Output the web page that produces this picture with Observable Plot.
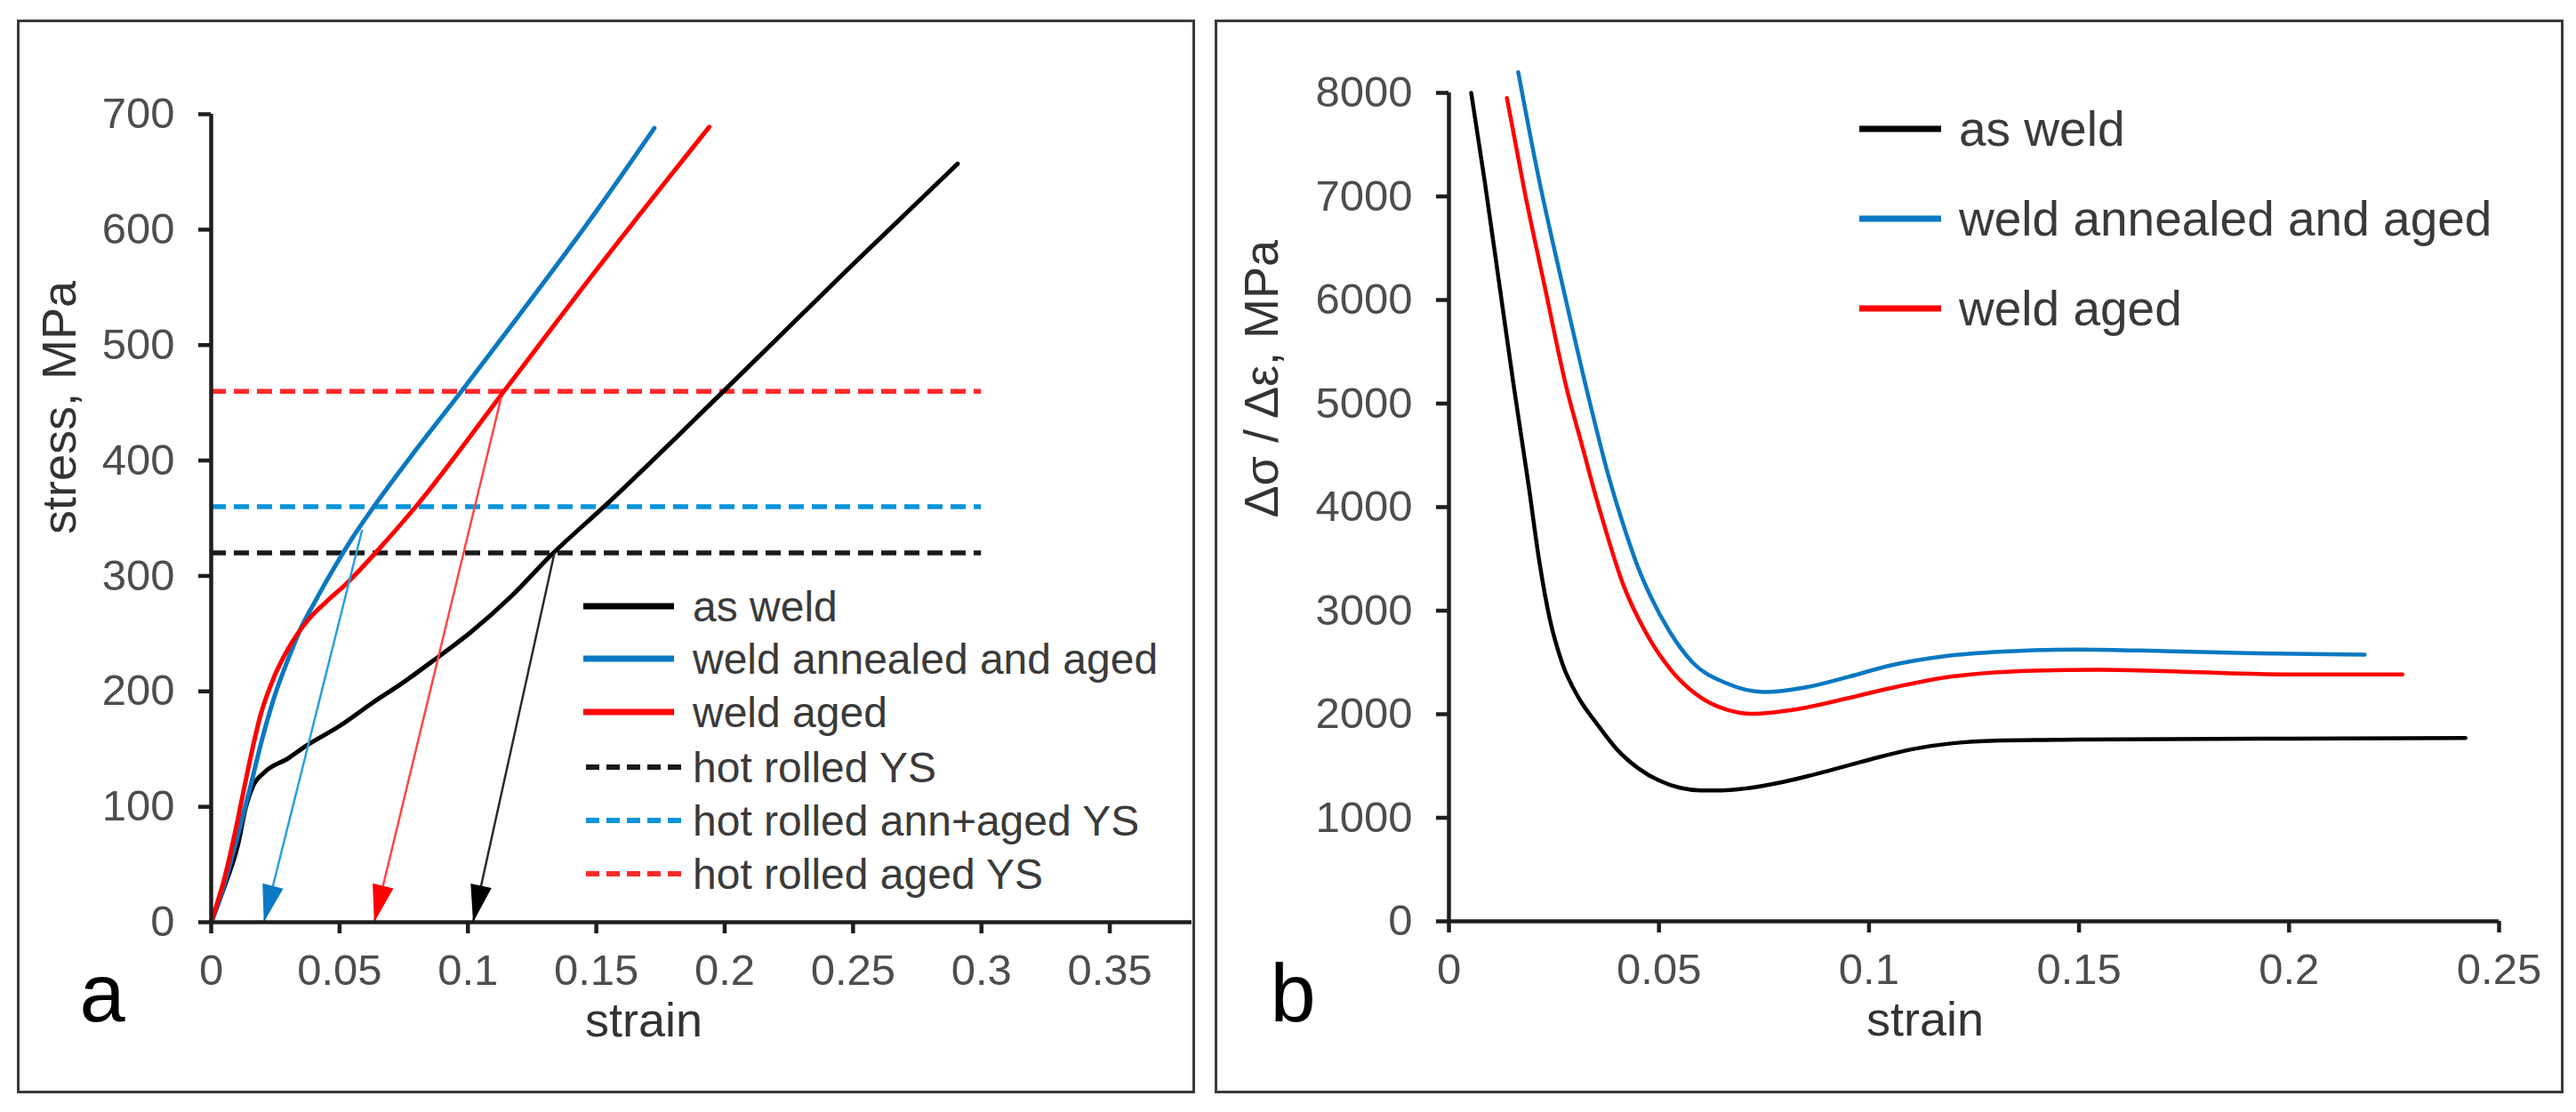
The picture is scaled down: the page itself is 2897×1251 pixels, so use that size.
<!DOCTYPE html>
<html>
<head>
<meta charset="utf-8">
<script src="https://cdn.jsdelivr.net/npm/d3@7"></script>
<script src="https://cdn.jsdelivr.net/npm/@observablehq/plot@0.6"></script>
<style>
  body { margin: 0; background: #fff; }
  #root { position: relative; width: 2897px; height: 1251px; overflow: hidden; font-family: "Liberation Sans", Arial, sans-serif; background: #fff; }
  .frame { position: absolute; box-sizing: border-box; border: 3px solid #3a3a3a; }
  .plot { position: absolute; top: 0; }
  .lrow { position: absolute; display: flex; align-items: center; white-space: nowrap; color: #3a3a3a; }
  .lrow svg { flex: none; }
</style>
</head>
<body>
<div id="root"></div>
<script>
// ---------------- DATA ----------------
// Panel a: stress-strain curves
const asWeldStrain  = [0, 0.005, 0.0104, 0.0135, 0.0163, 0.0208, 0.03, 0.0364, 0.05, 0.0628, 0.075, 0.0873, 0.101, 0.1167, 0.1324, 0.154, 0.2, 0.25, 0.2907];
const asWeldStress  = [0, 30, 67, 100, 118, 130, 142, 152, 170, 190, 208, 228, 251, 282, 318, 362, 461, 570, 657];
const annAgedStrain = [0, 0.005, 0.01, 0.015, 0.02, 0.025, 0.03, 0.035, 0.04, 0.045, 0.05, 0.055, 0.0627, 0.08, 0.0982, 0.12, 0.15, 0.1726];
const annAgedStress = [0, 32, 72, 115, 160, 198, 228, 255, 276, 296, 315, 333, 358, 410, 462, 526, 616, 688];
const agedStrain    = [0, 0.0055, 0.01, 0.013, 0.0193, 0.025, 0.03, 0.0378, 0.045, 0.053, 0.064, 0.0797, 0.1137, 0.15, 0.194];
const agedStress    = [0, 41, 85, 118, 180, 215, 237, 262, 278, 294, 320, 360, 459, 565, 689];

// Panel a: hot rolled yield strengths (dashed, strain 0 .. 0.3)
const ysNames  = ["hot rolled YS", "hot rolled ann+aged YS", "hot rolled aged YS"];
const ysValues = [320, 360, 460];
const ysEndStrain = 0.3;

// Panel a: unloading arrows (start on curve, tip on strain axis)
const arrowStartStrain = [0.0588, 0.113, 0.1337];
const arrowStartStress = [340, 455, 320];
const arrowEndStrain   = [0.0205, 0.0635, 0.102];
const arrowEndStress   = [0, 0, 0];

// Panel b: Δσ/Δε vs strain
const bAsWeldStrain  = [0.0053, 0.0085, 0.012, 0.0155, 0.019, 0.0215, 0.024, 0.027, 0.031, 0.035, 0.04, 0.045, 0.05, 0.055, 0.06, 0.065, 0.07, 0.08, 0.09, 0.1, 0.11, 0.12, 0.13, 0.15, 0.2, 0.242];
const bAsWeldValue   = [8000, 7150, 6150, 5150, 4200, 3480, 2920, 2490, 2150, 1920, 1660, 1480, 1360, 1290, 1265, 1265, 1280, 1350, 1450, 1560, 1660, 1720, 1745, 1755, 1765, 1770];
const bAnnAgedStrain = [0.0165, 0.021, 0.027, 0.033, 0.038, 0.0415, 0.045, 0.048, 0.0525, 0.058, 0.066, 0.075, 0.085, 0.095, 0.105, 0.118, 0.132, 0.15, 0.17, 0.19, 0.218];
const bAnnAgedValue  = [8200, 7250, 6150, 5100, 4300, 3830, 3420, 3140, 2800, 2500, 2300, 2215, 2260, 2360, 2470, 2560, 2605, 2625, 2610, 2590, 2575];
const bAgedStrain    = [0.0138, 0.018, 0.0227, 0.028, 0.032, 0.0345, 0.037, 0.0415, 0.047, 0.053, 0.06, 0.0665, 0.072, 0.083, 0.0945, 0.106, 0.119, 0.135, 0.155, 0.175, 0.2, 0.227];
const bAgedValue     = [7950, 7050, 6150, 5150, 4550, 4170, 3820, 3250, 2780, 2420, 2160, 2040, 2005, 2050, 2150, 2260, 2360, 2415, 2430, 2410, 2385, 2385];

// Ticks
const strainTicksA = [0, 0.05, 0.1, 0.15, 0.2, 0.25, 0.3, 0.35];
const stressTicksA = [0, 100, 200, 300, 400, 500, 600, 700];
const strainTicksB = [0, 0.05, 0.1, 0.15, 0.2, 0.25];
const valueTicksB  = [0, 1000, 2000, 3000, 4000, 5000, 6000, 7000, 8000];

// Series names
const seriesNames = ["as weld", "weld annealed and aged", "weld aged"];

// ---------------- STYLE ----------------
const C_BLACK = "#000000", C_BLUE = "#0a78c2", C_RED = "#ff0000";
const seriesColors = [C_BLACK, C_BLUE, C_RED];
const ysColors = ["#1a1a1a", "#0a94da", "#ff2a2a"];
const arrowLineColors = ["#2a9ee0", "#ff4545", "#2a2a2a"];
const arrowHeadColors = ["#0a78c2", "#ff0000", "#000000"];
const FONT = '"Liberation Sans", Arial, sans-serif';
const TICK_FILL = "#4d4d4d", AXIS_STROKE = "#1e1e1e", TITLE_FILL = "#333333";

function zip(xs, ys) { return xs.map((x, i) => ({x, y: ys[i]})); }

const curvesA = [zip(asWeldStrain, asWeldStress), zip(annAgedStrain, annAgedStress), zip(agedStrain, agedStress)];
const curvesB = [zip(bAsWeldStrain, bAsWeldValue), zip(bAnnAgedStrain, bAnnAgedValue), zip(bAgedStrain, bAgedValue)];
const arrows = arrowStartStrain.map((s, i) => ({x1: s, y1: arrowStartStress[i], x2: arrowEndStrain[i], y2: arrowEndStress[i]}));

const root = document.getElementById("root");

// frames
function frame(l, t, r, b) {
  const d = document.createElement("div");
  d.className = "frame";
  Object.assign(d.style, {left: l + "px", top: t + "px", width: (r - l) + "px", height: (b - t) + "px"});
  root.appendChild(d);
}
frame(19, 22, 1344, 1230);
frame(1366, 22, 2883, 1230);

// ---------------- PANEL A ----------------
function buildA(rots) {
  const marks = [];
  ysValues.forEach((v, i) => marks.push(Plot.ruleY([v], {x1: 0, x2: ysEndStrain, stroke: ysColors[i], strokeWidth: 5.5, strokeDasharray: "17,9"})));
  curvesA.forEach((c, i) => marks.push(Plot.line(c, {x: "x", y: "y", stroke: seriesColors[i], strokeWidth: 5, curve: "monotone-x"})));
  arrows.forEach((a, i) => marks.push(Plot.link([a], {x1: "x1", y1: "y1", x2: "x2", y2: "y2", stroke: arrowLineColors[i], strokeWidth: 2.5})));
  if (rots) {
    arrows.forEach((a, i) => marks.push(Plot.vector([a], {x: "x2", y: "y2", rotate: rots[i], length: 42, r: 12, shape: "spike", anchor: "end", fill: arrowHeadColors[i], stroke: "none"})));
  }
  marks.push(
    Plot.ruleX([0], {y1: 0, y2: 700, stroke: AXIS_STROKE, strokeWidth: 4.5}),
    Plot.ruleY([0], {x1: 0, x2: 0.382, stroke: AXIS_STROKE, strokeWidth: 4.5}),
    Plot.axisY({ticks: stressTicksA, tickFormat: d => String(d), tickSize: 14, tickPadding: 27, strokeWidth: 4.5, stroke: AXIS_STROKE, fill: TICK_FILL, fontSize: 49, label: null}),
    Plot.axisX({ticks: strainTicksA, tickFormat: d => String(d), tickSize: 13, tickPadding: 23, strokeWidth: 4.5, stroke: AXIS_STROKE, fill: TICK_FILL, fontSize: 49, label: null}),
    Plot.text(["strain"], {text: d => d, frameAnchor: "bottom", dx: -65, dy: 128, fontSize: 54, fill: TITLE_FILL}),
    Plot.text(["stress, MPa"], {text: d => d, frameAnchor: "left", rotate: -90, dx: -170, dy: 18, fontSize: 54, fill: TITLE_FILL}),
    Plot.text(["a"], {text: d => d, frameAnchor: "bottom-left", dx: -148, dy: 111, fontSize: 92, fill: "#000"})
  );
  return Plot.plot({
    width: 1350, height: 1240,
    marginLeft: 237, marginRight: 10, marginTop: 128, marginBottom: 203,
    x: {domain: [0, 0.382]},
    y: {domain: [0, 700]},
    style: {fontFamily: FONT, background: "none", overflow: "visible"},
    marks
  });
}
const pre = buildA(null);
const sx = pre.scale("x"), sy = pre.scale("y");
const rots = arrows.map(a => {
  const dx = sx.apply(a.x2) - sx.apply(a.x1);
  const dy = sy.apply(a.y2) - sy.apply(a.y1);
  return Math.atan2(dx, -dy) * 180 / Math.PI;
});
const plotA = buildA(rots);
plotA.classList.add("plot");
plotA.style.left = "0px";
root.appendChild(plotA);

// ---------------- PANEL B ----------------
const plotB = Plot.plot({
  width: 1510, height: 1240,
  marginLeft: 259, marginRight: 70, marginTop: 104, marginBottom: 204,
  x: {domain: [0, 0.25]},
  y: {domain: [0, 8000]},
  style: {fontFamily: FONT, background: "none", overflow: "visible"},
  marks: [
    ...curvesB.map((c, i) => Plot.line(c, {x: "x", y: "y", stroke: seriesColors[i], strokeWidth: 4.5, curve: "monotone-x"})),
    Plot.ruleX([0], {y1: 0, y2: 8000, stroke: AXIS_STROKE, strokeWidth: 4.5}),
    Plot.ruleY([0], {x1: 0, x2: 0.25, stroke: AXIS_STROKE, strokeWidth: 4.5}),
    Plot.axisY({ticks: valueTicksB, tickFormat: d => String(d), tickSize: 14, tickPadding: 27, strokeWidth: 4.5, stroke: AXIS_STROKE, fill: TICK_FILL, fontSize: 49, label: null}),
    Plot.axisX({ticks: strainTicksB, tickFormat: d => String(d), tickSize: 13, tickPadding: 23, strokeWidth: 4.5, stroke: AXIS_STROKE, fill: TICK_FILL, fontSize: 49, label: null}),
    Plot.text(["strain"], {text: d => d, frameAnchor: "bottom", dx: -55, dy: 128, fontSize: 54, fill: TITLE_FILL}),
    Plot.text(["Δσ / Δε, MPa"], {text: d => d, frameAnchor: "left", rotate: -90, dx: -210, dy: 12, fontSize: 54, fill: TITLE_FILL}),
    Plot.text(["b"], {text: d => d, frameAnchor: "bottom-left", dx: -201, dy: 112, fontSize: 92, fill: "#000"})
  ]
});
plotB.classList.add("plot");
plotB.style.left = "1370px";
root.appendChild(plotB);

// ---------------- LEGENDS (HTML overlays) ----------------
function legendRow(left, yc, label, color, dashed, swW, lineLen, sw, fontSize) {
  const row = document.createElement("div");
  row.className = "lrow";
  const h = Math.round(fontSize * 1.3);
  Object.assign(row.style, {left: left + "px", top: (yc - h / 2) + "px", height: h + "px", fontSize: fontSize + "px"});
  const ns = "http://www.w3.org/2000/svg";
  const svg = document.createElementNS(ns, "svg");
  svg.setAttribute("width", swW); svg.setAttribute("height", 20);
  const ln = document.createElementNS(ns, "line");
  ln.setAttribute("x1", dashed ? 3 : 0); ln.setAttribute("x2", lineLen);
  ln.setAttribute("y1", 10); ln.setAttribute("y2", 10);
  ln.setAttribute("stroke", color); ln.setAttribute("stroke-width", sw);
  if (dashed) ln.setAttribute("stroke-dasharray", "15,8");
  svg.appendChild(ln);
  row.appendChild(svg);
  const t = document.createElement("span");
  t.textContent = label;
  row.appendChild(t);
  root.appendChild(row);
}
// panel a legend
const legendAY = [682, 741, 801, 863, 923, 983];
seriesNames.forEach((n, i) => legendRow(656, legendAY[i], n, seriesColors[i], false, 123, 102, 7, 48));
ysNames.forEach((n, i) => legendRow(656, legendAY[i + 3], n, ysColors[i], true, 123, 110, 6, 48));
// panel b legend
const legendBY = [145, 246, 347];
seriesNames.forEach((n, i) => legendRow(2091, legendBY[i], n, seriesColors[i], false, 112, 92, 7, 55));
</script>
</body>
</html>
